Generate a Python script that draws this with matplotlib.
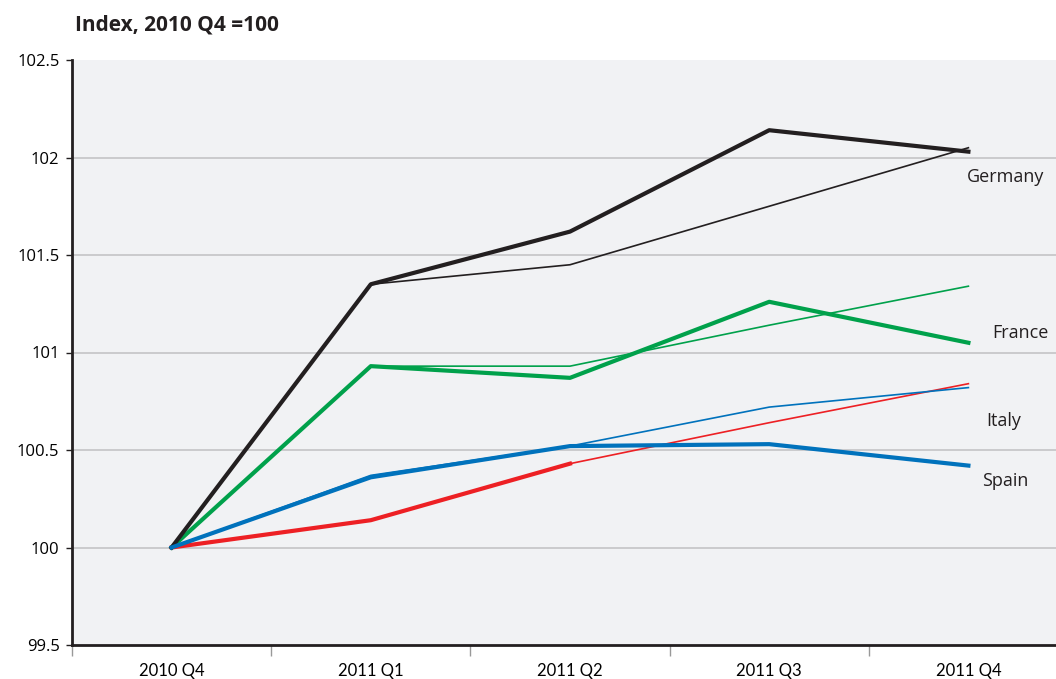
import matplotlib.pyplot as plt
import numpy as np

quarters = ["2010 Q4", "2011 Q1", "2011 Q2", "2011 Q3", "2011 Q4"]

germany_actual = [100, 101.35, 101.62, 102.14, 102.03]
germany_thin = [100, 101.35, 101.45, 101.75, 102.05]
france_actual = [100, 100.93, 100.87, 101.26, 101.05]
france_thin = [100, 100.93, 100.93, 101.14, 101.34]
italy_actual = [100, 100.14, 100.43]
italy_thin = [100, 100.14, 100.43, 100.64, 100.84]
spain_actual = [100, 100.36, 100.52, 100.53, 100.42]
spain_thin = [100, 100.37, 100.52, 100.72, 100.82]

black = "#231f20"
green = "#00a14b"
red = "#ed2024"
blue = "#0072bc"

plt.rcParams['font.family'] = ['Open Sans', 'DejaVu Sans']

fig = plt.figure(figsize=(10.56, 6.79), dpi=100)
ax = fig.add_axes([72 / 1056, 1 - 645 / 679, (1068 - 72) / 1056, (645 - 60) / 679])
ax.set_facecolor("#f1f2f4")

x = np.arange(len(quarters))

# thin lines first, thick on top
ax.plot(x, italy_thin, color=red, lw=1.2, zorder=3)
ax.plot(x, spain_thin, color=blue, lw=1.2, zorder=3)
ax.plot(x, france_thin, color=green, lw=1.2, zorder=3)
ax.plot(x, germany_thin, color=black, lw=1.2, zorder=3)

ax.plot(x[:len(italy_actual)], italy_actual, color=red, lw=3, zorder=4)
ax.plot(x, spain_actual, color=blue, lw=3, zorder=5)
ax.plot(x, france_actual, color=green, lw=3, zorder=4)
ax.plot(x, germany_actual, color=black, lw=3, zorder=4)

ax.set_xlim(-0.5, 4.5)
ax.set_ylim(99.5, 102.5)
ax.set_yticks([99.5, 100, 100.5, 101, 101.5, 102, 102.5])
ax.set_yticklabels(["99.5", "100", "100.5", "101", "101.5", "102", "102.5"])
ax.set_xticks(x)
ax.set_xticklabels(quarters, family=['Liberation Sans Narrow', 'Lato', 'DejaVu Sans'])
ax.set_xticks(np.arange(-0.5, 5, 1), minor=True)

for v in [100, 100.5, 101, 101.5, 102]:
    ax.axhline(v, color="#c4c4c6", lw=1.2, zorder=1)

for s in ["top", "right"]:
    ax.spines[s].set_visible(False)
ax.spines["left"].set_linewidth(2)
ax.spines["bottom"].set_linewidth(2)
ax.spines["left"].set_color(black)
ax.spines["bottom"].set_color(black)

ax.tick_params(axis="x", which="major", length=0, pad=13, labelsize=12)
ax.tick_params(axis="x", which="minor", length=8, color="#999999", width=1)
ax.tick_params(axis="y", length=4, width=1, color=black, pad=5, labelsize=12)

ax.text(3.99, 101.9, "Germany", ha="left", va="center", fontsize=13, color=black)
ax.text(4.12, 101.1, "France", ha="left", va="center", fontsize=13, color=black)
ax.text(4.09, 100.65, "Italy", ha="left", va="center", fontsize=13, color=black)
ax.text(4.07, 100.34, "Spain", ha="left", va="center", fontsize=13, color=black)

fig.text(75 / 1056, 1 - 25 / 679, "Index, 2010 Q4 =100", ha="left", va="center",
         fontsize=15, fontweight="bold", color=black)

fig.savefig("out.png", dpi=100)
